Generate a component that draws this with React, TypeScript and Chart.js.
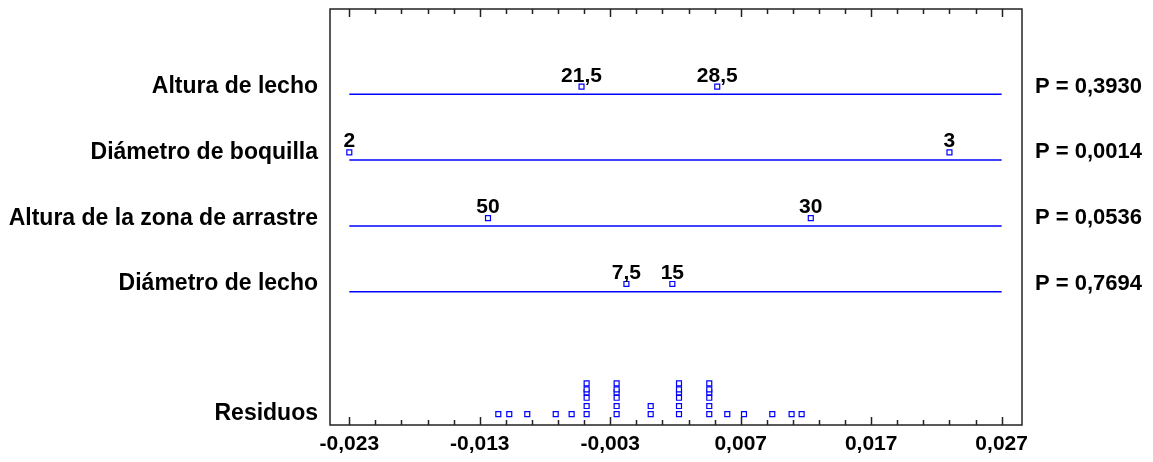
import React, { useEffect, useRef } from 'react';
import { Chart, registerables } from 'chart.js';

Chart.register(...registerables);

// ---- data ----
const factorNames = [
  'Altura de lecho',
  'Diámetro de boquilla',
  'Altura de la zona de arrastre',
  'Diámetro de lecho',
];
const pValues = [0.393, 0.0014, 0.0536, 0.7694];
const levelLabels = [
  ['21,5', '28,5'],
  ['2', '3'],
  ['50', '30'],
  ['7,5', '15'],
];
const levelEffects = [
  [-0.0052, 0.0052],
  [-0.023, 0.023],
  [-0.01237, 0.01237],
  [-0.00176, 0.00176],
];
const residualLabel = 'Residuos';
const residuals = [
  -0.01158, -0.01074, -0.00936, -0.00718, -0.00596,
  -0.00481, -0.00481, -0.00481, -0.00481, -0.00481, -0.00481,
  -0.00251, -0.00251, -0.00251, -0.00251, -0.00251, -0.00251,
  0.0001, 0.0001,
  0.00227, 0.00227, 0.00227, 0.00227, 0.00227, 0.00227,
  0.00459, 0.00459, 0.00459, 0.00459, 0.00459, 0.00459,
  0.00597, 0.00725, 0.00942, 0.0109, 0.01167,
];
const xTickStart = -0.023;
const xTickEnd = 0.027;
const xMinorStep = 0.002;
const xMajorEvery = 5;

// ---- layout / style constants ----
const X_MIN = -0.02448;
const X_MAX = 0.02856;
const Y_MIN = -0.296;
const Y_MAX = 6.026;
const RESID_ROW = 5.86;
const MARKER_DY = 0.117;
const STACK_DY = [0, 0.122, 0.248, 0.33, 0.375, 0.466];
const BLUE = '#0000ff';
const FONT_FAMILY = "'Liberation Sans', Arial, sans-serif";

const fmtX = (v: number) => {
  const r = Math.round(v * 1000) / 1000;
  return r.toFixed(3).replace('.', ',');
};
const fmtP = (p: number) => 'P = ' + p.toFixed(4).replace('.', ',');

export default function App() {
  const ref = useRef<HTMLCanvasElement | null>(null);

  useEffect(() => {
    if (!ref.current) return;

    const rows = factorNames.map((_, i) => i + 1);
    const markerRows = rows.map((r) => r - MARKER_DY);

    const xTicks: number[] = [];
    const nTicks = Math.round((xTickEnd - xTickStart) / xMinorStep);
    for (let k = 0; k <= nTicks; k++) xTicks.push(xTickStart + k * xMinorStep);

    const datasets: any[] = [];
    rows.forEach((r, i) => {
      datasets.push({
        type: 'scatter',
        showLine: true,
        data: [
          { x: xTickStart, y: r },
          { x: xTickEnd, y: r },
        ],
        borderColor: BLUE,
        borderWidth: 1.5,
        pointRadius: 0,
        yAxisID: 'y',
      });
      datasets.push({
        type: 'scatter',
        data: levelEffects[i].map((v) => ({ x: v, y: markerRows[i] })),
        pointStyle: 'rect',
        pointRadius: 3.5,
        borderColor: BLUE,
        backgroundColor: '#ffffff',
        borderWidth: 1.2,
        levelText: levelLabels[i],
        yAxisID: 'y',
      });
    });

    const counts: Record<string, number> = {};
    const residPts = residuals.map((v) => {
      const key = v.toFixed(6);
      const k = counts[key] || 0;
      counts[key] = k + 1;
      return { x: v, y: RESID_ROW - STACK_DY[Math.min(k, STACK_DY.length - 1)] };
    });
    datasets.push({
      type: 'scatter',
      data: residPts,
      pointStyle: 'rect',
      pointRadius: 3.5,
      borderColor: BLUE,
      backgroundColor: '#ffffff',
      borderWidth: 1.2,
      yAxisID: 'y',
    });

    const leftLabels = [...factorNames, residualLabel];
    const rightLabels = [...pValues.map(fmtP), ''];
    const yTickVals = [...markerRows, RESID_ROW];

    const framePlugin = {
      id: 'frameTicks',
      afterDatasetsDraw(chart: any) {
        const { ctx, chartArea } = chart;
        const xs = chart.scales.x;
        ctx.save();
        ctx.strokeStyle = '#222222';
        ctx.lineWidth = 1.5;
        ctx.strokeRect(
          chartArea.left,
          chartArea.top,
          chartArea.right - chartArea.left,
          chartArea.bottom - chartArea.top
        );
        xTicks.forEach((v, i) => {
          const px = Math.round(xs.getPixelForValue(v)) + 0.5;
          const len = i % xMajorEvery === 0 ? 8 : 5;
          ctx.beginPath();
          ctx.moveTo(px, chartArea.bottom);
          ctx.lineTo(px, chartArea.bottom - len);
          ctx.moveTo(px, chartArea.top);
          ctx.lineTo(px, chartArea.top + len);
          ctx.stroke();
        });
        ctx.fillStyle = '#000000';
        ctx.font = `bold 21px ${FONT_FAMILY}`;
        ctx.textAlign = 'center';
        ctx.textBaseline = 'alphabetic';
        chart.data.datasets.forEach((ds: any, di: number) => {
          if (!ds.levelText) return;
          const meta = chart.getDatasetMeta(di);
          meta.data.forEach((pt: any, j: number) => {
            ctx.fillText(ds.levelText[j], pt.x, pt.y - 5);
          });
        });
        ctx.restore();
      },
    };

    const noPad = (s: any) => {
      s.paddingTop = 0;
      s.paddingBottom = 0;
      s.paddingLeft = 0;
      s.paddingRight = 0;
    };

    const chart = new Chart(ref.current, {
      type: 'scatter',
      data: { datasets },
      plugins: [framePlugin],
      options: {
        animation: false,
        responsive: false,
        layout: { padding: { top: 9, left: 0, right: 0, bottom: 0 } },
        plugins: { legend: { display: false }, tooltip: { enabled: false } },
        scales: {
          x: {
            type: 'linear',
            position: 'bottom',
            min: X_MIN,
            max: X_MAX,
            grid: { display: false, drawTicks: false },
            border: { display: false },
            afterBuildTicks: (s: any) => {
              s.ticks = xTicks.map((v) => ({ value: v }));
            },
            afterFit: (s: any) => {
              s.height = 37;
              noPad(s);
            },
            ticks: {
              autoSkip: false,
              maxRotation: 0,
              padding: 7,
              color: '#000000',
              font: { family: FONT_FAMILY, size: 21, weight: 'bold' },
              callback: (_v: any, i: number) => (i % xMajorEvery === 0 ? fmtX(xTicks[i]) : ''),
            },
          },
          y: {
            type: 'linear',
            position: 'left',
            min: Y_MIN,
            max: Y_MAX,
            reverse: true,
            grid: { display: false, drawTicks: false },
            border: { display: false },
            afterBuildTicks: (s: any) => {
              s.ticks = yTickVals.map((v) => ({ value: v }));
            },
            afterFit: (s: any) => {
              s.width = 330;
              noPad(s);
            },
            ticks: {
              autoSkip: false,
              padding: 12,
              color: '#000000',
              font: { family: FONT_FAMILY, size: 23, weight: 'bold' },
              callback: (_v: any, i: number) => leftLabels[i],
            },
          },
          y2: {
            type: 'linear',
            position: 'right',
            min: Y_MIN,
            max: Y_MAX,
            reverse: true,
            grid: { display: false, drawTicks: false },
            border: { display: false },
            afterBuildTicks: (s: any) => {
              s.ticks = yTickVals.map((v) => ({ value: v }));
            },
            afterFit: (s: any) => {
              s.width = 131;
              noPad(s);
            },
            ticks: {
              autoSkip: false,
              padding: 13,
              color: '#000000',
              font: { family: FONT_FAMILY, size: 22, weight: 'bold' },
              callback: (_v: any, i: number) => rightLabels[i],
            },
          },
        },
      } as any,
    });

    return () => chart.destroy();
  }, []);

  return (
    <div
      style={{
        position: 'fixed',
        left: 0,
        top: 0,
        width: 1153,
        height: 462,
        background: '#ffffff',
      }}
    >
      <canvas ref={ref} width={1153} height={462} style={{ display: 'block' }} />
    </div>
  );
}
